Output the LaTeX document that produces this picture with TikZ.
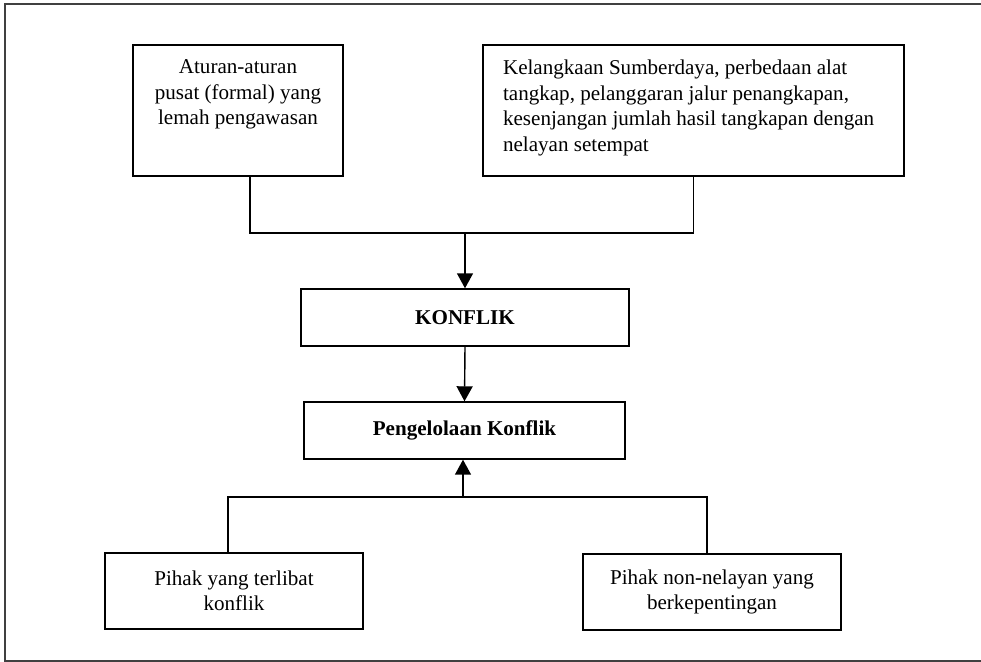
\documentclass[tikz,border=0pt,12pt]{standalone}
\usepackage{fontspec}
\setmainfont{Liberation Serif}
\usetikzlibrary{arrows.meta}

\tikzset{
  kotak/.style={draw, line width=0.8pt, inner sep=0pt, align=center},
  panah/.style={line width=0.8pt, -{Triangle[width=0.32cm,length=0.3cm]}},
  garis/.style={line width=0.8pt}
}

\begin{document}
\begin{tikzpicture}[x=0.02cm, y=-0.02cm]

    \useasboundingbox (0,0) rectangle (981,662);

    % draw outer frame
    \draw[line width=0.6pt, black!75] (981,4) -- (5,4) -- (5,661) -- (981,661);

    % draw top boxes
    \node[kotak] (atur) at (238,110.5)
      {\parbox[t][2.62cm][t]{4.2cm}{\vspace*{0.3cm}\centering
       Aturan-aturan\\ pusat (formal) yang\\ lemah pengawasan}};
    \node[kotak] (langka) at (693.5,110.5)
      {\parbox[t][2.62cm][t]{8.42cm}{\vspace*{0.3cm}\raggedright\leftskip=0.4cm
       Kelangkaan Sumberdaya, perbedaan alat\\ tangkap, pelanggaran jalur penangkapan,\\
       kesenjangan jumlah hasil tangkapan dengan\\ nelayan setempat}};

    % draw middle boxes
    \node[kotak, minimum width=6.56cm, minimum height=1.14cm] (konflik) at (465,317.5)
      {\textbf{KONFLIK}};
    \node[kotak, minimum width=6.42cm, minimum height=1.14cm] (kelola) at (464.5,430.5)
      {\textbf{Pengelolaan Konflik}};

    % draw bottom boxes
    \node[kotak, minimum width=5.16cm, minimum height=1.52cm] (pihak) at (234,591)
      {Pihak yang terlibat\\ konflik};
    \node[kotak, minimum width=5.16cm, minimum height=1.52cm] (nonnel) at (712,592)
      {Pihak non-nelayan yang\\ berkepentingan};

    % draw connectors
    \coordinate (gabung) at (465,233);
    \coordinate (pisah) at (463,497);
    \draw[garis] ([xshift=0.24cm]atur.south) |- (gabung) -| (langka.south);
    \draw[panah] (gabung) -- (konflik.north);
    \draw[panah] (konflik.south) -- (kelola.north);
    \draw[garis] ([xshift=-0.12cm]pihak.north) |- (pisah) -| ([xshift=-0.1cm]nonnel.north);
    \draw[panah] (pisah) -- (pisah |- kelola.south);

\end{tikzpicture}
\end{document}
